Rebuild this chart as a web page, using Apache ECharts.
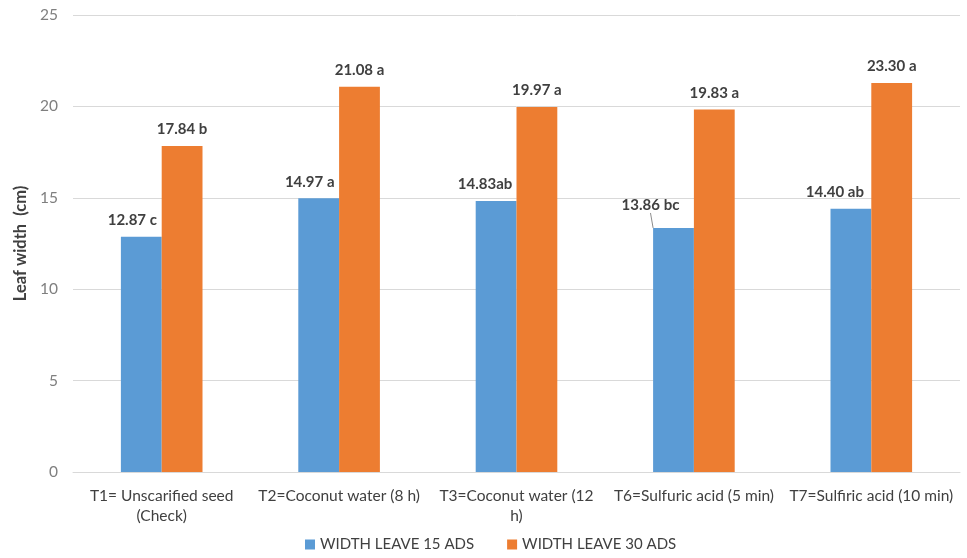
<!DOCTYPE html>
<html><head><meta charset="utf-8">
<script src="https://cdn.jsdelivr.net/npm/echarts@6/dist/echarts.min.js"></script>
<style>html,body{margin:0;padding:0;background:#fff}#c{width:967px;height:558px}</style>
</head><body><div id="c"></div>
<script>
const categories = ["T1= Unscarified seed\n(Check)", "T2=Coconut water (8 h)", "T3=Coconut water (12\nh)", "T6=Sulfuric acid (5 min)", "T7=Sulfiric acid (10 min)"];
const seriesNames = ["WIDTH LEAVE 15 ADS", "WIDTH LEAVE 30 ADS"];
const width15 = [12.87, 14.97, 14.83, 13.35, 14.40];
const width30 = [17.84, 21.08, 19.97, 19.83, 21.28];
const labels15 = ["12.87 c", "14.97 a", "14.83ab", "13.86 bc", "14.40 ab"];
const labels30 = ["17.84 b", "21.08 a", "19.97 a", "19.83 a", "23.30 a"];
const yTicks = [0, 5, 10, 15, 20, 25];

const FONT = "Lato, 'Open Sans', sans-serif";
const shift15 = [[-9, 0], [-9, 0], [-11, 0], [-23, -6], [-16, 0]];
const chart = echarts.init(document.getElementById('c'));
const labelStyle = {show: true, position: 'top', distance: 9, fontFamily: FONT, fontWeight: 'bold', fontSize: 15, color: '#404040'};
chart.setOption({
  animation: false,
  grid: {left: 73, right: 7, top: 15, bottom: 86, containLabel: false},
  legend: {bottom: 1, left: 300, itemWidth: 10, itemHeight: 10, itemGap: 33, icon: 'rect',
    textStyle: {fontFamily: FONT, fontSize: 15, color: '#404040'}, data: seriesNames},
  xAxis: {type: 'category', data: categories,
    axisLine: {lineStyle: {color: '#d9d9d9'}}, axisTick: {show: false},
    axisLabel: {interval: 0, margin: 14, fontFamily: FONT, fontSize: 15.5, color: '#404040', lineHeight: 20}},
  yAxis: {type: 'value', min: yTicks[0], max: yTicks[yTicks.length - 1], interval: 5,
    name: 'Leaf width  (cm)', nameLocation: 'middle', nameGap: 42, nameRotate: 90,
    nameTextStyle: {fontFamily: FONT, fontWeight: 'bold', fontSize: 16.5, color: '#404040'},
    axisLine: {show: false}, axisTick: {show: false},
    axisLabel: {margin: 15, fontFamily: FONT, fontSize: 15.5, color: '#7f7f7f'},
    splitLine: {lineStyle: {color: '#d9d9d9'}}},
  series: [
    {name: seriesNames[0], type: 'bar', barWidth: '23%', barGap: '0%', itemStyle: {color: '#5b9bd5'},
      data: width15.map((v, i) => i === 3 ? {value: v, labelLine: {show: true}} : {value: v}),
      label: Object.assign({}, labelStyle, {formatter: p => labels15[p.dataIndex]}),
      labelLine: {show: false, lineStyle: {color: '#8c8c8c', width: 1}},
      labelLayout: function (p) {
        const dx = shift15[p.dataIndex][0], dy = shift15[p.dataIndex][1];
        const out = {dx: dx, dy: dy};
        if (p.dataIndex === 3) {
          const lx = p.labelRect.x + p.labelRect.width / 2 + dx;
          const ly = p.labelRect.y + p.labelRect.height + dy;
          const bx = p.rect.x + p.rect.width / 2, by = p.rect.y;
          out.labelLinePoints = [[lx, ly], [(lx + bx) / 2, (ly + by) / 2], [bx, by]];
        }
        return out;
      }},
    {name: seriesNames[1], type: 'bar', barWidth: '23%', itemStyle: {color: '#ed7d31'},
      data: width30,
      label: Object.assign({}, labelStyle, {formatter: p => labels30[p.dataIndex]})}
  ]
});
</script></body></html>
